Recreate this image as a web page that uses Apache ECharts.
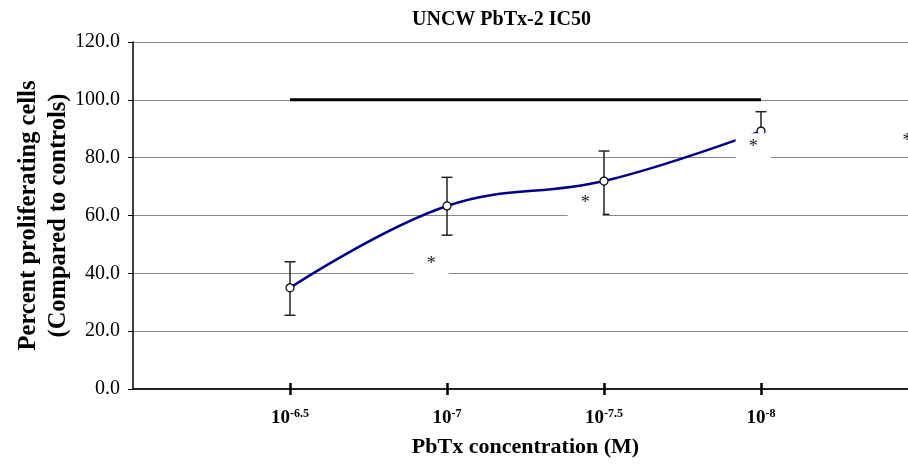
<!DOCTYPE html>
<html><head><meta charset="utf-8">
<script src="https://cdn.jsdelivr.net/npm/echarts@6/dist/echarts.min.js"></script>
<style>html,body{margin:0;padding:0;background:#fff}#c{width:908px;height:464px}</style>
</head><body><div id="c"></div>
<script>
const titleText = 'UNCW PbTx-2 IC50';
const xTitle = 'PbTx concentration (M)';
const yTitle = 'Percent proliferating cells\n(Compared to controls)';
const logConc = [6.5, 7, 7.5, 8];               // concentration = 10^-logConc M
const tickExponents = ['-6.5', '-7', '-7.5', '-8'];
const meanPct = [35.0, 63.3, 71.9, 89.2];
const errLow = [25.5, 53.2, 60.4, 82.5];
const errHigh = [44.0, 73.2, 82.3, 95.9];
const controlPct = [100, 100, 100, 100];
const sigX = [6.95, 7.44, 7.975, 8.465];
const sigY = [43.0, 64.2, 83.6, 85.6];
const sigMark = '*';

const FONT = '"Liberation Serif", "Times New Roman", serif';
const chart = echarts.init(document.getElementById('c'), null, {renderer: 'canvas'});

const meanData = logConc.map((x, i) => [x, meanPct[i]]);
const ctrlData = logConc.map((x, i) => [x, controlPct[i]]);
const errData = logConc.map((x, i) => [x, errLow[i], errHigh[i]]);
const sigData = sigX.map((x, i) => [x, sigY[i]]);

chart.setOption({
  animation: false,
  backgroundColor: '#fff',
  title: {
    text: titleText, left: 407, top: 5,
    textStyle: {fontFamily: FONT, fontWeight: 'bold', fontSize: 20, color: '#000'}
  },
  grid: {left: 133, top: 42, width: 785, height: 347, containLabel: false, outerBoundsMode: 'none'},
  xAxis: [{
    type: 'value', min: 6, max: 8.5,
    axisLine: {show: true, lineStyle: {color: '#222', width: 2}},
    axisTick: {show: true, customValues: logConc, length: 6, lineStyle: {color: '#000', width: 2.5}},
    splitLine: {show: false},
    axisLabel: {
      customValues: logConc, margin: 19,
      formatter: v => {
        const i = logConc.indexOf(v);
        return '{b|10}{s|' + (i >= 0 ? tickExponents[i] : '') + '}';
      },
      rich: {
        b: {fontFamily: FONT, fontWeight: 'bold', fontSize: 19, color: '#000', lineHeight: 20, verticalAlign: 'bottom'},
        s: {fontFamily: FONT, fontWeight: 'bold', fontSize: 12, color: '#000', lineHeight: 20, verticalAlign: 'top', padding: [0, 0, 9, 0]}
      }
    },
    name: xTitle, nameLocation: 'middle', nameGap: 47, nameMoveOverlap: false,
    nameTextStyle: {fontFamily: FONT, fontWeight: 'bold', fontSize: 22, color: '#000'}
  }, {
    type: 'value', min: 6, max: 8.5, position: 'bottom', gridIndex: 0,
    axisLine: {show: false},
    axisTick: {show: true, inside: true, customValues: logConc, length: 6, lineStyle: {color: '#000', width: 2.5}},
    axisLabel: {show: false}, splitLine: {show: false}
  }],
  yAxis: {
    type: 'value', min: 0, max: 120, interval: 20,
    axisLine: {show: true, lineStyle: {color: '#000', width: 1.5}},
    axisTick: {show: true, length: 5, lineStyle: {color: '#000', width: 1}},
    axisLabel: {formatter: v => v.toFixed(1), fontFamily: FONT, fontSize: 20, color: '#000', margin: 13},
    splitLine: {show: true, lineStyle: {color: '#888', width: 1}},
    name: yTitle, nameLocation: 'middle', nameGap: 59, nameRotate: 90, nameMoveOverlap: false,
    nameTextStyle: {fontFamily: FONT, fontWeight: 'bold', fontSize: 24.5, color: '#000', lineHeight: 30}
  },
  series: [{
    name: 'control', type: 'line', data: ctrlData, symbol: 'none',
    lineStyle: {color: '#000', width: 3}, z: 2
  }, {
    name: 'sem', type: 'custom', data: errData, encode: {x: 0, y: [1, 2]}, z: 3,
    renderItem: (params, api) => {
      const x = api.value(0), lo = api.value(1), hi = api.value(2);
      const pLo = api.coord([x, lo]), pHi = api.coord([x, hi]);
      const w = 5.5;
      const style = {stroke: '#222', lineWidth: 1.5};
      return {type: 'group', children: [
        {type: 'line', shape: {x1: pHi[0], y1: pHi[1], x2: pLo[0], y2: pLo[1]}, style},
        {type: 'line', shape: {x1: pHi[0] - w, y1: pHi[1], x2: pHi[0] + w, y2: pHi[1]}, style},
        {type: 'line', shape: {x1: pLo[0] - w, y1: pLo[1], x2: pLo[0] + w, y2: pLo[1]}, style}
      ]};
    }
  }, {
    name: 'mean', type: 'line', data: meanData, smooth: 0.4,
    symbol: 'circle', symbolSize: 8, showSymbol: true,
    lineStyle: {color: '#000088', width: 2.5},
    itemStyle: {color: '#fff', borderColor: '#000', borderWidth: 1.2}, z: 4
  }, {
    name: 'sig', type: 'scatter', data: sigData, symbolSize: 1, clip: false,
    itemStyle: {color: '#fff', opacity: 1}, z: 10,
    label: {
      show: true, position: 'inside', formatter: sigMark, opacity: 1,
      fontFamily: FONT, fontSize: 18, color: '#222', lineHeight: 18,
      backgroundColor: '#fff', padding: [2, 13, 8, 13]
    }
  }]
});
</script></body></html>
